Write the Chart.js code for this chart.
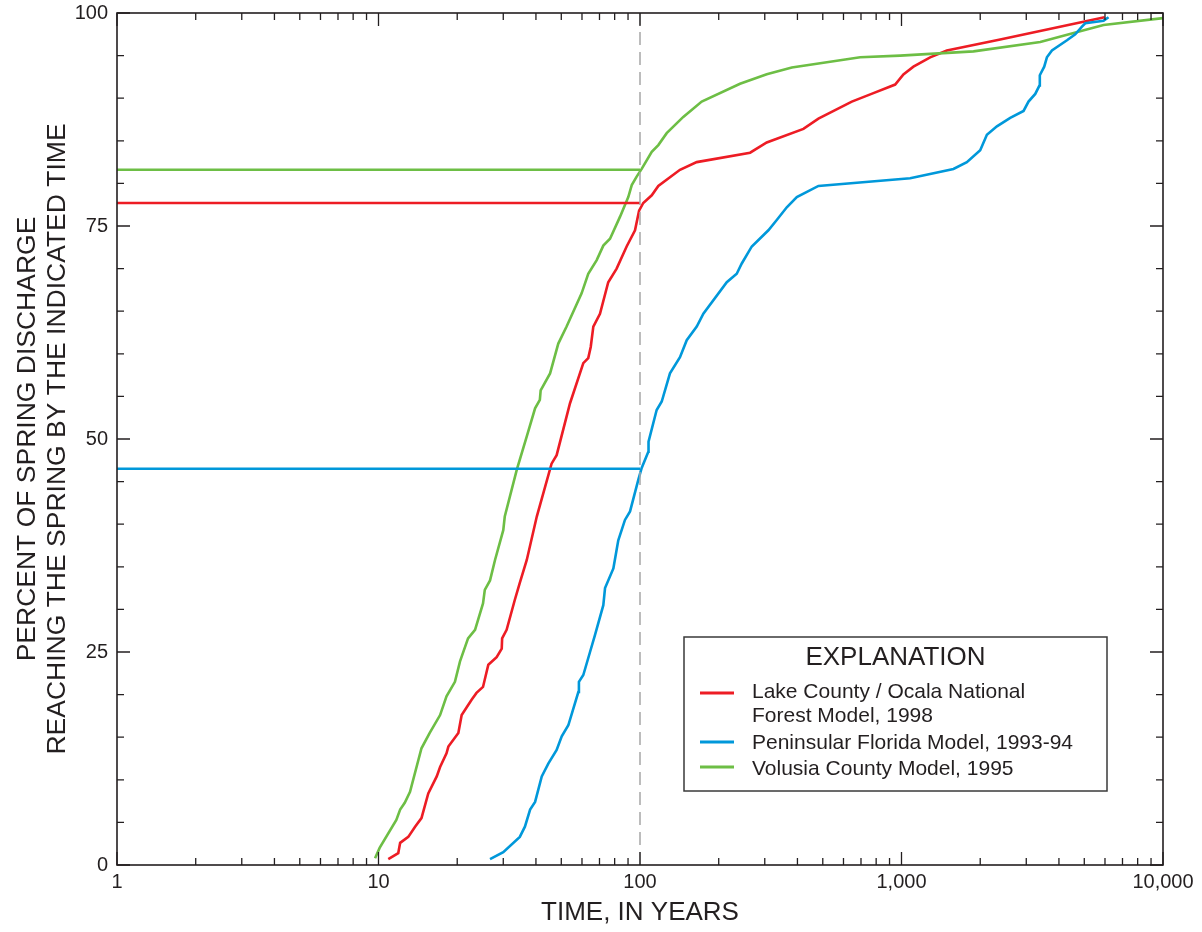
<!DOCTYPE html>
<html>
<head>
<meta charset="utf-8">
<script src="https://cdn.jsdelivr.net/npm/chart.js@4.4.0/dist/chart.umd.min.js"></script>
<style>
    html, body { margin: 0; padding: 0; background: #fff; }
    canvas { display: block; }
</style>
</head>
<body>
<canvas id="travelTimeChart" width="1202" height="932"></canvas>
<script>
// ---------- DATA ----------
// Lake County / Ocala National Forest Model, 1998
const lakeYears = [10.9, 11.9, 12.1, 13.0, 13.8, 14.6, 15.5, 16.7, 17.2, 18.2, 18.5, 20.2, 20.8, 22.7, 23.7, 25.1, 26.3, 28.3, 29.6, 29.7, 30.9, 33.2, 34.7, 36.9, 40.3, 45.9, 48.0, 54.0, 60.7, 63.4, 64.8, 66.3, 70.3, 75.6, 81.4, 88.9, 95.7, 99.2, 102.9, 110.9, 117.5, 142.2, 164.8, 263.7, 305.3, 421.6, 481.2, 645.7, 780.9, 945.7, 1017, 1111, 1287, 1491, 2385, 5977];
const lakePct = [0.7, 1.4, 2.6, 3.3, 4.5, 5.5, 8.4, 10.4, 11.5, 13.1, 13.9, 15.5, 17.6, 19.4, 20.2, 20.9, 23.5, 24.4, 25.4, 26.6, 27.6, 31.1, 33.1, 35.8, 40.9, 47.1, 48.1, 54.2, 58.9, 59.5, 60.8, 63.2, 64.7, 68.4, 70.0, 72.6, 74.5, 76.8, 77.7, 78.6, 79.7, 81.6, 82.5, 83.6, 84.8, 86.4, 87.6, 89.6, 90.6, 91.6, 92.8, 93.7, 94.8, 95.6, 96.9, 99.5];

// Peninsular Florida Model, 1993-94
const peninsularYears = [26.7, 30.0, 34.7, 36.3, 38.0, 39.7, 42.1, 44.6, 48.0, 50.2, 53.2, 58.1, 58.4, 60.7, 64.4, 67.3, 72.4, 73.5, 79.1, 81.4, 82.6, 87.6, 91.6, 98.5, 101.5, 107.6, 107.8, 115.8, 121.1, 130.2, 142.2, 150.9, 164.8, 174.7, 214.7, 234.4, 245.0, 267.6, 309.7, 333.4, 364.2, 397.8, 481.2, 1079, 1580, 1778, 2000, 2121, 2317, 2605, 2929, 3060, 3247, 3372, 3380, 3514, 3598, 3761, 4293, 4617, 4898, 5043, 5925, 6191];
const peninsularPct = [0.7, 1.5, 3.3, 4.5, 6.5, 7.4, 10.4, 11.9, 13.5, 15.1, 16.4, 20.3, 21.5, 22.3, 25.0, 27.0, 30.5, 32.5, 34.8, 37.0, 38.1, 40.5, 41.5, 45.2, 46.6, 48.5, 49.7, 53.4, 54.4, 57.7, 59.6, 61.6, 63.2, 64.7, 68.4, 69.4, 70.6, 72.6, 74.5, 75.7, 77.2, 78.4, 79.7, 80.6, 81.7, 82.5, 83.9, 85.7, 86.7, 87.7, 88.5, 89.6, 90.5, 91.5, 92.7, 93.7, 94.8, 95.6, 96.8, 97.5, 98.4, 98.8, 99.1, 99.5];

// Volusia County Model, 1995
const volusiaYears = [9.7, 10.1, 11.7, 12.1, 12.6, 13.2, 14.6, 15.7, 17.2, 18.2, 19.6, 20.5, 22.0, 23.4, 25.1, 25.5, 26.7, 27.9, 30.0, 30.4, 33.8, 36.9, 39.7, 41.4, 41.7, 45.3, 48.7, 52.4, 59.8, 63.4, 68.3, 72.4, 76.8, 83.9, 90.2, 93.0, 97.1, 101.5, 110.9, 117.5, 126.5, 146.4, 172.2, 241.3, 305.3, 380.7, 695, 988, 1885, 3393, 4742, 5925, 10000];
const volusiaPct = [0.8, 2.0, 5.3, 6.5, 7.3, 8.6, 13.7, 15.5, 17.6, 19.8, 21.5, 23.9, 26.6, 27.6, 30.7, 32.3, 33.4, 35.8, 39.3, 40.9, 46.4, 50.3, 53.6, 54.6, 55.7, 57.7, 61.2, 63.2, 67.1, 69.4, 71.0, 72.7, 73.5, 76.1, 78.4, 79.8, 80.8, 81.7, 83.7, 84.5, 85.9, 87.8, 89.6, 91.7, 92.8, 93.6, 94.8, 95.0, 95.5, 96.6, 97.8, 98.6, 99.4];

// percent reaching the spring by 100 years (horizontal guide lines)
const markerYear = 100;
const lakeAt100 = 77.7;
const peninsularAt100 = 46.5;
const volusiaAt100 = 81.6;

const seriesNames = [
    ["Lake County / Ocala National", "Forest Model, 1998"],
    ["Peninsular Florida Model, 1993-94"],
    ["Volusia County Model, 1995"]
];
const seriesColors = ["#ED1C24", "#0098DA", "#6DBE45"];

// ---------- TICKS ----------
const xTickValues = [];
[1, 10, 100, 1000].forEach(d => {
    for (let m = 1; m <= 9; m++) xTickValues.push(d * m);
});
xTickValues.push(10000);
const xLabelValues = [1, 10, 100, 1000, 10000];
const xTickLabels = ["1", "10", "100", "1,000", "10,000"];

const yTickValues = [];
for (let v = 0; v <= 100; v += 5) yTickValues.push(v);
const yLabelValues = [0, 25, 50, 75, 100];
const yTickLabels = ["0", "25", "50", "75", "100"];

const inkColor = "#231f20";
const fontFamily = "'Liberation Sans', Arial, Helvetica, sans-serif";

const toPoints = (xs, ys) => xs.map((x, i) => ({ x, y: ys[i] }));
const hLine = (y) => [{ x: 1, y }, { x: markerYear, y }];

// ---------- FRAME + INWARD TICKS ----------
const frameTicksPlugin = {
    id: "frameTicks",
    afterDatasetsDraw(chart) {
        const { ctx, chartArea: a, scales } = chart;
        const xs = scales.x, ys = scales.y;

        ctx.save();
        ctx.strokeStyle = inkColor;
        ctx.lineWidth = 1.3;
        ctx.beginPath();
        xTickValues.forEach(v => {
            const px = xs.getPixelForValue(v);
            const len = xLabelValues.includes(v) ? 13 : 7;
            ctx.moveTo(px, a.bottom);
            ctx.lineTo(px, a.bottom - len);
            ctx.moveTo(px, a.top);
            ctx.lineTo(px, a.top + len);
        });
        yTickValues.forEach(v => {
            const py = ys.getPixelForValue(v);
            const len = yLabelValues.includes(v) ? 13 : 7;
            ctx.moveTo(a.left, py);
            ctx.lineTo(a.left + len, py);
            ctx.moveTo(a.right, py);
            ctx.lineTo(a.right - len, py);
        });
        ctx.stroke();

        ctx.lineWidth = 1.6;
        ctx.strokeRect(a.left, a.top, a.right - a.left, a.bottom - a.top);
        ctx.restore();
    }
};

// ---------- EXPLANATION BOX ----------
const explanationPlugin = {
    id: "explanation",
    afterDraw(chart) {
        const { ctx } = chart;
        const box = { left: 684, top: 637, right: 1107, bottom: 791 };

        ctx.save();
        ctx.fillStyle = "#fff";
        ctx.fillRect(box.left, box.top, box.right - box.left, box.bottom - box.top);
        ctx.strokeStyle = "#3a3a3a";
        ctx.lineWidth = 1.5;
        ctx.strokeRect(box.left, box.top, box.right - box.left, box.bottom - box.top);

        ctx.fillStyle = inkColor;
        ctx.textBaseline = "middle";
        ctx.textAlign = "center";
        ctx.font = `26px ${fontFamily}`;
        ctx.fillText("EXPLANATION", (box.left + box.right) / 2, 658);

        ctx.textAlign = "left";
        ctx.font = `21px ${fontFamily}`;
        const rows = [
            { line: 693, text: [692, 716] },
            { line: 742, text: [743] },
            { line: 767, text: [769] }
        ];
        rows.forEach((r, i) => {
            ctx.strokeStyle = seriesColors[i];
            ctx.lineWidth = 3;
            ctx.beginPath();
            ctx.moveTo(700, r.line);
            ctx.lineTo(734, r.line);
            ctx.stroke();
            seriesNames[i].forEach((t, j) => {
                ctx.fillText(t, 752, r.text[j]);
            });
        });
        ctx.restore();
    }
};

// ---------- INIT CHART ----------
const canvas = document.getElementById("travelTimeChart");

const curveStyle = (color) => ({
    borderColor: color,
    backgroundColor: color,
    borderWidth: 2.6,
    pointRadius: 0,
    fill: false,
    tension: 0
});

new Chart(canvas.getContext("2d"), {
    type: "line",
    data: {
        datasets: [
            { label: "100 years", data: [{ x: markerYear, y: 0 }, { x: markerYear, y: 100 }],
              borderColor: "#a7a7a7", borderWidth: 1.5, borderDash: [13, 7], pointRadius: 0, fill: false },
            { label: "Volusia at 100", data: hLine(volusiaAt100), ...curveStyle(seriesColors[2]) },
            { label: "Lake at 100", data: hLine(lakeAt100), ...curveStyle(seriesColors[0]) },
            { label: "Peninsular at 100", data: hLine(peninsularAt100), ...curveStyle(seriesColors[1]) },
            { label: seriesNames[1].join(" "), data: toPoints(peninsularYears, peninsularPct), ...curveStyle(seriesColors[1]) },
            { label: seriesNames[2].join(" "), data: toPoints(volusiaYears, volusiaPct), ...curveStyle(seriesColors[2]) },
            { label: seriesNames[0].join(" "), data: toPoints(lakeYears, lakePct), ...curveStyle(seriesColors[0]) }
        ]
    },
    plugins: [frameTicksPlugin, explanationPlugin],
    options: {
        responsive: false,
        animation: false,
        layout: { padding: { top: 13, right: 39, left: 0, bottom: 0 } },
        plugins: {
            legend: { display: false },
            tooltip: { enabled: false }
        },
        scales: {
            x: {
                type: "logarithmic",
                min: 1,
                max: 10000,
                grid: { display: false, drawTicks: false },
                border: { display: false },
                afterBuildTicks(scale) {
                    scale.ticks = xTickValues.map(v => ({ value: v }));
                },
                afterFit(scale) {
                    scale.height = 67;
                    scale.paddingLeft = 0;
                    scale.paddingRight = 0;
                },
                ticks: {
                    autoSkip: false,
                    maxRotation: 0,
                    padding: 5,
                    color: inkColor,
                    font: { family: fontFamily, size: 20 },
                    callback(value) {
                        const i = xLabelValues.indexOf(value);
                        return i >= 0 ? xTickLabels[i] : "";
                    }
                },
                title: {
                    display: true,
                    text: "TIME, IN YEARS",
                    color: inkColor,
                    font: { family: fontFamily, size: 26, lineHeight: 1.2 },
                    padding: { top: 0, bottom: 4 }
                }
            },
            y: {
                type: "linear",
                min: 0,
                max: 100,
                grid: { display: false, drawTicks: false },
                border: { display: false },
                afterBuildTicks(scale) {
                    scale.ticks = yTickValues.map(v => ({ value: v }));
                },
                afterFit(scale) {
                    scale.width = 117;
                    scale.paddingTop = 0;
                    scale.paddingBottom = 0;
                },
                ticks: {
                    autoSkip: false,
                    padding: 9,
                    color: inkColor,
                    font: { family: fontFamily, size: 20 },
                    callback(value) {
                        const i = yLabelValues.indexOf(value);
                        return i >= 0 ? yTickLabels[i] : "";
                    }
                },
                title: {
                    display: true,
                    text: ["PERCENT OF SPRING DISCHARGE", "REACHING THE SPRING BY THE INDICATED TIME"],
                    color: inkColor,
                    font: { family: fontFamily, size: 26.5, lineHeight: 1.15 },
                    padding: { top: 12, bottom: 0 }
                }
            }
        }
    }
});
</script>
</body>
</html>
